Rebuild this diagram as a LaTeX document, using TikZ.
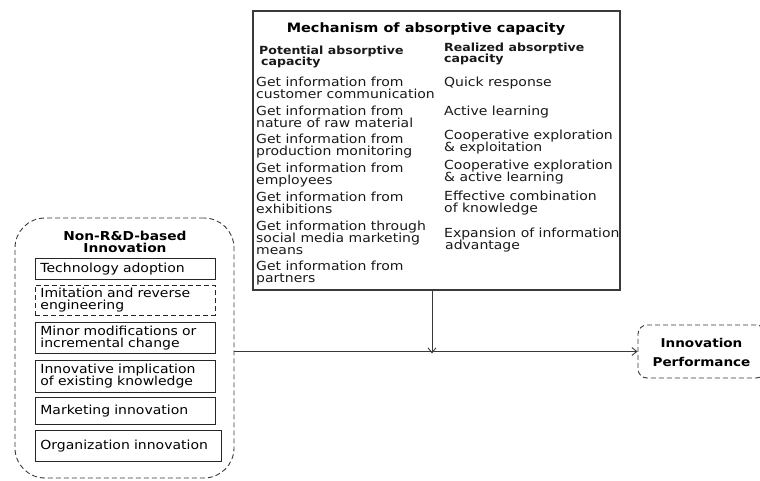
\documentclass[tikz,border=0pt]{standalone}
\usepackage{fontspec}
\setmainfont{DejaVu Sans}[FakeStretch=1.12]
\usetikzlibrary{arrows.meta}
\definecolor{edge}{HTML}{3A3A3A}
\newcommand{\tightlines}{\lineskiplimit=-20pt\lineskip=0pt}
\tikzset{
  txt/.style={inner sep=0pt, anchor=north west, align=left,
    font=\fontsize{12.5}{12}\selectfont\tightlines, text=black!90},
  hdr/.style={inner sep=0pt, anchor=north west, align=left,
    font=\fontsize{11.2}{10.6}\selectfont\bfseries\tightlines, text=black!90},
  itembox/.style={draw=black!85, line width=0.8pt, anchor=north west, inner xsep=5pt,
    inner ysep=0pt, text width=170pt, align=left,
    font=\fontsize{12.5}{12}\selectfont\tightlines},
  dashline/.style={dash pattern=on 5pt off 3pt},
  link/.style={draw=edge, line width=0.9pt, -{Straight Barb[length=5pt,width=8pt]}},
}
\begin{document}
\begin{tikzpicture}[x=1pt,y=-1pt]
\useasboundingbox (0,0) rectangle (760,481);
\clip (0,0) rectangle (760,481);

% mechanism box
\node[draw=edge, line width=1.4pt, minimum width=367pt, minimum height=279pt, inner sep=0pt]
  (mech) at (436.5,150.5) {};
\node[font=\fontsize{12.9}{14}\selectfont\bfseries, inner sep=0pt] (mtitle) at (426,29) {Mechanism of absorptive capacity};
\node[hdr] (pot) at (259,46) {Potential absorptive\\\hspace*{2pt}capacity};
\node[hdr] (rea) at (444,43) {Realized absorptive\\capacity};

\node[txt] (p1) at (256,77) {Get information from\\customer communication};
\node[txt] (p2) at (256,106) {Get information from\\nature of raw material};
\node[txt] (p3) at (256,134) {Get information from\\production monitoring};
\node[txt] (p4) at (256,163) {Get information from\\employees};
\node[txt] (p5) at (256,192) {Get information from\\exhibitions};
\node[txt] (p6) at (256,221) {Get information through\\social media marketing\\means};
\node[txt] (p7) at (256,261) {Get information from\\partners};

\node[txt] (r1) at (444,77) {Quick response};
\node[txt] (r2) at (444,106) {Active learning};
\node[txt] (r3) at (444,130) {Cooperative exploration\\\&{} exploitation};
\node[txt] (r4) at (444,160) {Cooperative exploration\\\&{} active learning};
\node[txt] (r5) at (444,191) {Effective combination\\of knowledge};
\node[txt] (r6) at (444,228) {Expansion of information\\\hspace*{1pt}advantage};

% non-R&D group
\node[draw=edge, dashline, line width=0.9pt, rounded corners=30pt, minimum width=219pt,
  minimum height=260pt, inner sep=0pt] (nonrd) at (124.5,348) {};
\node[font=\fontsize{12.3}{12}\selectfont\bfseries\tightlines, align=center, inner sep=0pt]
  (ntitle) at (125,241.5) {Non-R\&D-based\\Innovation};

\node[itembox, minimum height=21pt] (b1) at (35,258) {Technology adoption};
\node[itembox, minimum height=30pt, dashline] (b2) at (35,285) {Imitation and reverse\\engineering};
\node[itembox, minimum height=31pt] (b3) at (35,322) {Minor modifications or\\incremental change};
\node[itembox, minimum height=32pt] (b4) at (35,360) {Innovative implication\\of existing knowledge};
\node[itembox, minimum height=27pt] (b5) at (35,397) {Marketing innovation};
\node[itembox, minimum height=31pt, text width=176pt] (b6) at (35,430) {Organization innovation};

% outcome
\node[draw=edge, dashline, line width=0.9pt, rounded corners=9pt, minimum width=127pt,
  minimum height=53pt, inner sep=0pt] (perf) at (701.5,351.5) {};
\node[font=\fontsize{12.1}{19}\selectfont\bfseries, align=center, inner sep=0pt]
  (ptext) at (701.5,352) {Innovation\\Performance};

% connectors
\coordinate (join) at (432,351.5);
\draw[link] (mech.south -| join) -- ([yshift=-2pt]join);
\draw[link] (nonrd.east |- perf.west) -- (perf.west);
\end{tikzpicture}
\end{document}
